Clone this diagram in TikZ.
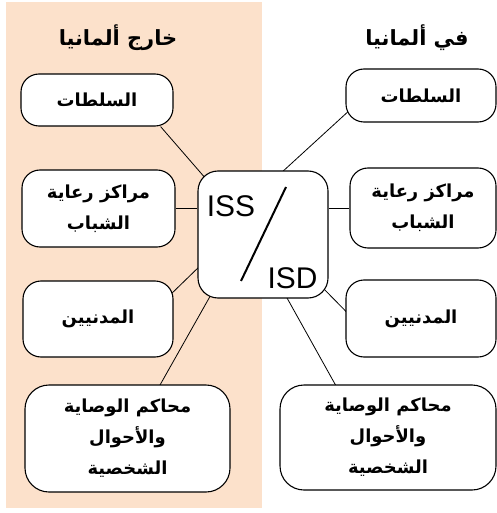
\documentclass[tikz,border=0pt]{standalone}
\usepackage{fontspec}
\usepackage{tikz}
\usetikzlibrary{backgrounds}
\setmainfont{Liberation Sans}
\newfontfamily\arabicfont[Script=Arabic]{DejaVu Sans}
\TeXXeTstate=1
\definecolor{peach}{RGB}{252,225,203}
\newcommand{\artext}[1]{\beginR #1\endR}

\begin{document}
\begin{tikzpicture}[x=1bp, y=-1bp,
    box/.style={draw, line width=1.1bp, fill=white, rounded corners=18bp, inner sep=0pt,
      align=center, font=\arabicfont\bfseries\fontsize{18}{31}\selectfont},
    bigbox/.style={box, rounded corners=24bp},
    title/.style={font=\arabicfont\bfseries\fontsize{21}{24}\selectfont},
    link/.style={line width=0.8bp}]
          \useasboundingbox (0,0) rectangle (497,513);
          % the two headings
          \node[title] (outside) at (118,38) {\artext{خارج ألمانيا}};
          \node[title] (inside) at (417,38) {\artext{في ألمانيا}};
          % centre
          \node[box, rounded corners=20bp, minimum width=130bp, minimum height=127bp] (hub) at (263,234.5) {};
          \node[font=\fontsize{30}{36}\selectfont] (iss) at (231,206) {ISS};
          \node[font=\fontsize{30}{36}\selectfont] (isd) at (292.5,278) {ISD};
          \coordinate (slashtop) at (286,187);
          \coordinate (slashbot) at (241,281);
          \draw[line width=2bp] (slashtop) -- (slashbot);
          % left column
          \node[box, minimum width=152bp, minimum height=52bp] (l1) at (97,100) {\artext{السلطات}};
          \node[box, minimum width=153bp, minimum height=77bp] (l2) at (98.5,208.5) {\artext{مراكز رعاية}\\\artext{الشباب}};
          \node[box, minimum width=150bp, minimum height=76bp] (l3) at (98,319) {\artext{المدنيين}};
          \node[bigbox, minimum width=205bp, minimum height=107bp] (l4) at (127.5,438.5) {\artext{محاكم الوصاية}\\\artext{والأحوال}\\\artext{الشخصية}};
          % right column
          \node[box, minimum width=150bp, minimum height=53bp] (r1) at (421,95.5) {\artext{السلطات}};
          \node[box, minimum width=146bp, minimum height=80bp] (r2) at (423,208) {\artext{مراكز رعاية}\\\artext{الشباب}};
          \node[box, minimum width=150bp, minimum height=77bp] (r3) at (421,318.5) {\artext{المدنيين}};
          \node[bigbox, minimum width=216bp, minimum height=105bp] (r4) at (388,437.5) {\artext{محاكم الوصاية}\\\artext{والأحوال}\\\artext{الشخصية}};
          \begin{scope}[on background layer]
            \fill[peach] (6,2) rectangle (262,508);
            \draw[link] ([shift={(-13,0)}]l1.south east) -- ([shift={(9,9)}]hub.north west);
            \draw[link] (l2.east) -- (l2.east -| hub.west);
            \draw[link] ([shift={(-6,17)}]l3.north east) -- ([shift={(5,-35)}]hub.south west);
            \draw[link] ([shift={(30,5)}]l4.north) -- ([shift={(17,-10)}]hub.south west);
            \draw[link] ([shift={(6,-14)}]r1.south west) -- ([shift={(82,4)}]hub.north west);
            \draw[link] (r2.west) -- (r2.west -| hub.east);
            \draw[link] ([shift={(6,-1.5)}]r3.west) -- ([shift={(-10,-15)}]hub.south east);
            \draw[link] ([shift={(-50,5)}]r4.north) -- ([shift={(-44,-5)}]hub.south east);
          \end{scope}
         \end{tikzpicture}
\end{document}
